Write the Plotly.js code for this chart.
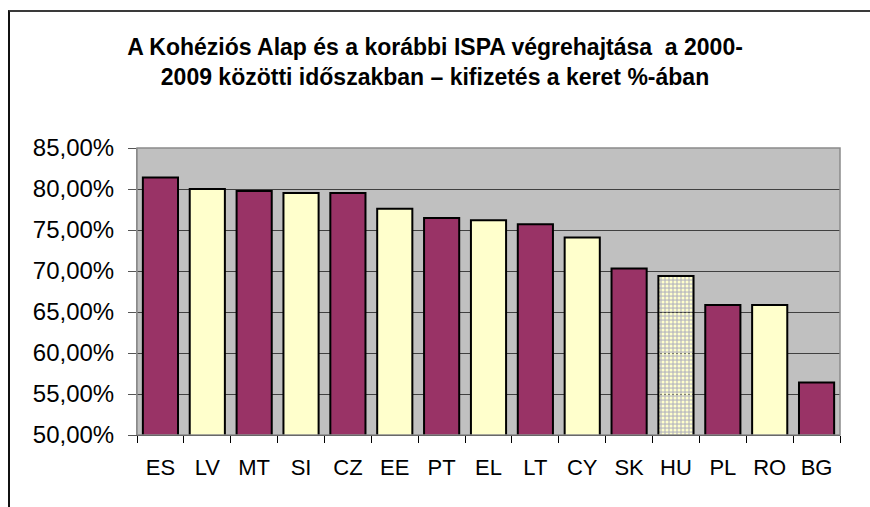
<!DOCTYPE html>
<html>
<head>
<meta charset="utf-8">
<script src="https://cdn.plot.ly/plotly-3.0.1.min.js"></script>
<style>
  html, body { margin: 0; padding: 0; background: #fff; }
  #wrap { position: relative; width: 870px; height: 507px; overflow: hidden; }
  #frame { position: absolute; left: 8px; top: 10px; width: 900px; height: 600px;
           border-top: 2px solid #3a3a3a; border-left: 2px solid #111; }
  #chart { position: absolute; left: 0; top: 0; width: 870px; height: 507px; }
</style>
</head>
<body>
<div id="wrap">
  <div id="frame"></div>
  <div id="chart"></div>
</div>
<script>
const countries = ["ES","LV","MT","SI","CZ","EE","PT","EL","LT","CY","SK","HU","PL","RO","BG"];
const payments = [81.4, 80.0, 79.75, 79.5, 79.5, 77.6, 76.45, 76.2, 75.7, 74.1, 70.3, 69.4, 65.85, 65.85, 56.4];
const highlighted = "HU";
const yTicks = [50, 55, 60, 65, 70, 75, 80, 85];
const yTickText = yTicks.map(v => v.toFixed(2).replace(".", ",") + "%");

const purple = "#993366", cream = "#FFFFCC";
const colors = countries.map((c, i) => i % 2 === 0 ? purple : cream);
const shapes = countries.map(c => c === highlighted ? "." : "");

const trace = {
  type: "bar",
  x: countries,
  y: payments,
  width: 0.75,
  marker: {
    color: colors,
    line: { color: "#000", width: 2 },
    pattern: { shape: shapes, fgcolor: "#555", bgcolor: cream, size: 4, solidity: 0.45, fillmode: "replace" }
  },
  hoverinfo: "x+y"
};

const layout = {
  width: 870, height: 507,
  margin: { l: 137, r: 30, t: 148, b: 72, pad: 0 },
  paper_bgcolor: "rgba(0,0,0,0)",
  plot_bgcolor: "#C0C0C0",
  showlegend: false,
  title: {
    text: "A Kohéziós Alap és a korábbi ISPA végrehajtása  a 2000-<br>2009 közötti időszakban – kifizetés a keret %-ában",
    font: { family: "Liberation Sans, Arial, sans-serif", size: 23, color: "#000", weight: "bold" },
    x: 0.5, xref: "container", xanchor: "center",
    y: 1 - 55 / 507, yref: "container", yanchor: "top"
  },
  xaxis: {
    type: "category",
    tickfont: { family: "Liberation Sans, Arial, sans-serif", size: 22, color: "#000" },
    ticks: "outside", ticklen: 7, tickcolor: "#000", tickwidth: 1,
    tickson: "boundaries",
    showline: true, linecolor: "#000", linewidth: 1,
    showgrid: false, zeroline: false,
    ticklabelstandoff: 13
  },
  yaxis: {
    range: [50, 85],
    tickmode: "array",
    tickvals: yTicks,
    ticktext: yTickText,
    tickfont: { family: "Liberation Sans, Arial, sans-serif", size: 24, color: "#000" },
    ticks: "outside", ticklen: 8, tickcolor: "#555", tickwidth: 1,
    showline: true, linecolor: "#888", linewidth: 1,
    showgrid: true, gridcolor: "#404040", gridwidth: 1,
    zeroline: false,
    ticklabelstandoff: 9
  },
  shapes: [
    { type: "rect", xref: "paper", yref: "paper", x0: 0, x1: 1, y0: 0, y1: 1,
      line: { color: "#8a8a8a", width: 1.5 }, layer: "above" }
  ]
};

Plotly.newPlot("chart", [trace], layout, { displayModeBar: false, staticPlot: true });
</script>
</body>
</html>
